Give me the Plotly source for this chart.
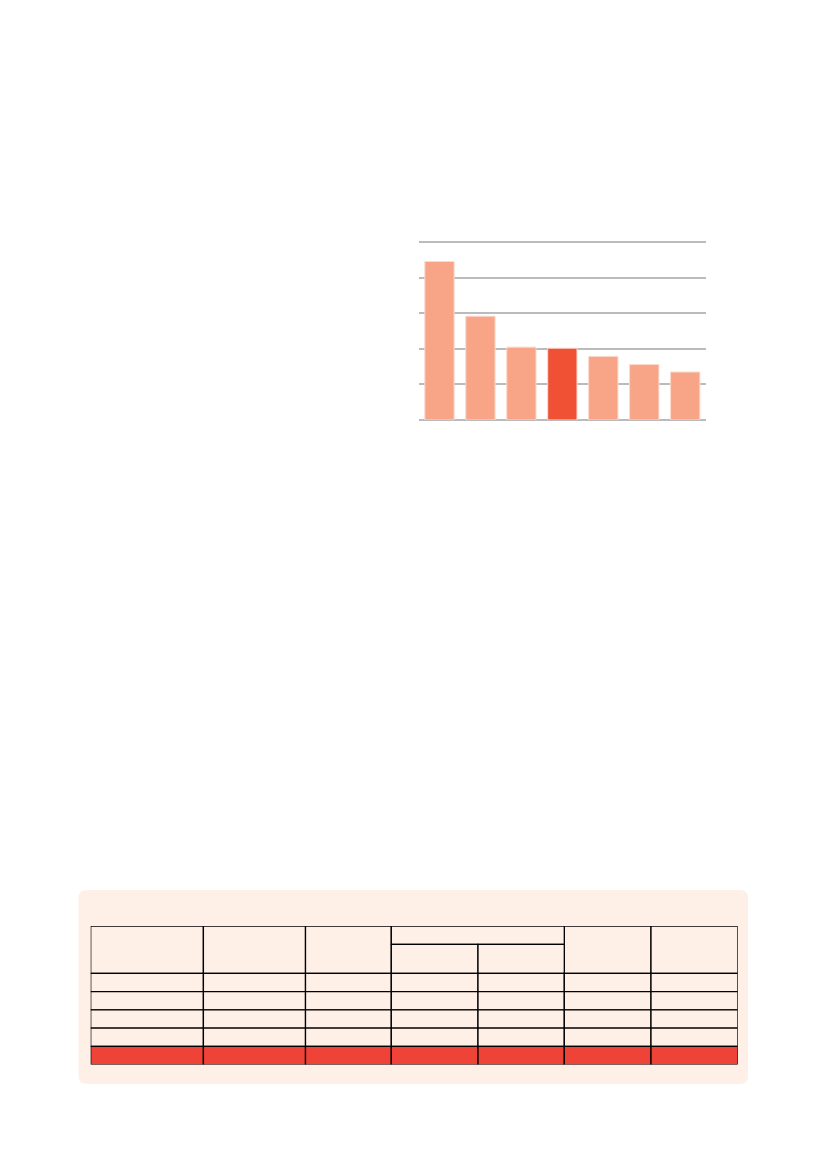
import numpy as np
import plotly.graph_objects as go

W, H = 827, 1169
OFF = 8  # the page body margin shifts the figure by this much

# bar chart values (no labels printed on the page)
categories = ["A", "B", "C", "D", "E", "F", "G"]
values = [4.46, 2.92, 2.05, 2.02, 1.79, 1.56, 1.35]
highlight = "D"

# table: 7 columns, columns 4 and 5 share a header, 4 body rows + 1 total row
n_cols = 7
group_cols = (3, 4)
body_rows = ["", "", "", ""]
total_row = [""] * n_cols

LIGHT = "#F7A586"
DARK = "#F05033"
PANEL = "#FEF0E7"
TOTAL = "#F04338"


def px_x(p):
    return (p - OFF) / W


def px_y(p):
    return 1 - (p - OFF) / H


def rounded_rect(x0, y0, x1, y1, r):
    # pixel coords -> paper path with rounded corners
    rx, ry = r / W, r / H
    a, b, c, d = px_x(x0), px_y(y1), px_x(x1), px_y(y0)
    return (
        f"M {a + rx},{b} L {c - rx},{b} Q {c},{b} {c},{b + ry} "
        f"L {c},{d - ry} Q {c},{d} {c - rx},{d} L {a + rx},{d} "
        f"Q {a},{d} {a},{d - ry} L {a},{b + ry} Q {a},{b} {a + rx},{b} Z"
    )


fig = go.Figure()

colors = [DARK if c == highlight else LIGHT for c in categories]
fig.add_trace(
    go.Bar(
        x=categories,
        y=values,
        marker_color=colors,
        marker_line=dict(color="#FCD9CC", width=1),
        hoverinfo="skip",
    )
)

y_top = 5.05
unit = (420 - 242.3) / 5
fig.update_layout(
    width=W,
    height=H,
    margin=dict(l=0, r=0, t=0, b=0),
    paper_bgcolor="white",
    plot_bgcolor="rgba(0,0,0,0)",
    showlegend=False,
    bargap=0.285,
    xaxis=dict(
        domain=[px_x(419), px_x(705.7)],
        showticklabels=False,
        showgrid=False,
        zeroline=False,
        showline=False,
        ticks="",
    ),
    yaxis=dict(
        domain=[px_y(420), px_y(420 - y_top * unit)],
        range=[0, y_top],
        tickvals=[0, 1, 2, 3, 4, 5],
        showticklabels=False,
        showgrid=True,
        gridcolor="#BBBBBB",
        gridwidth=1.5,
        zeroline=True,
        zerolinecolor="#BBBBBB",
        zerolinewidth=1.5,
        ticks="",
    ),
)

# table grid on its own hidden axes (units = pixels of the table box)
col_w = [112.7, 102.1, 85.8, 86.7, 86.3, 86.7, 86.7]
head_top, head_sub, row_h = 18.3, 29.0, 18.25
edges = np.concatenate([[0], np.cumsum(col_w)])
n_rows = len(body_rows) + 1
tab_h = head_top + head_sub + n_rows * row_h

fig.update_layout(
    xaxis2=dict(domain=[px_x(90.7), px_x(737.7)], range=[0, edges[-1]], visible=False),
    yaxis2=dict(domain=[px_y(926 + tab_h), px_y(926)], range=[tab_h, 0], visible=False),
)
fig.add_trace(go.Scatter(x=[0, edges[-1]], y=[0, tab_h], xaxis="x2", yaxis="y2",
                         mode="markers", marker_opacity=0, hoverinfo="skip"))

shapes = [
    dict(type="path", xref="paper", yref="paper", layer="below",
         path=rounded_rect(78.5, 890, 748, 1084, 8), fillcolor=PANEL, line_width=0)
]


def cell(x0, x1, y0, y1, fill):
    return dict(type="rect", xref="x2", yref="y2", x0=x0, x1=x1, y0=y0, y1=y1,
                fillcolor=fill, line=dict(color="black", width=1.3), layer="above")


head_h = head_top + head_sub
for j in range(n_cols):
    if j in group_cols:
        continue
    shapes.append(cell(edges[j], edges[j + 1], 0, head_h, PANEL))
g0, g1 = group_cols
shapes.append(cell(edges[g0], edges[g1 + 1], 0, head_top, PANEL))
for j in group_cols:
    shapes.append(cell(edges[j], edges[j + 1], head_top, head_h, PANEL))

for i in range(n_rows):
    fill = TOTAL if i == n_rows - 1 else PANEL
    y0 = head_h + i * row_h
    for j in range(n_cols):
        shapes.append(cell(edges[j], edges[j + 1], y0, y0 + row_h, fill))

fig.update_layout(shapes=shapes)

fig.write_html("out.html")
